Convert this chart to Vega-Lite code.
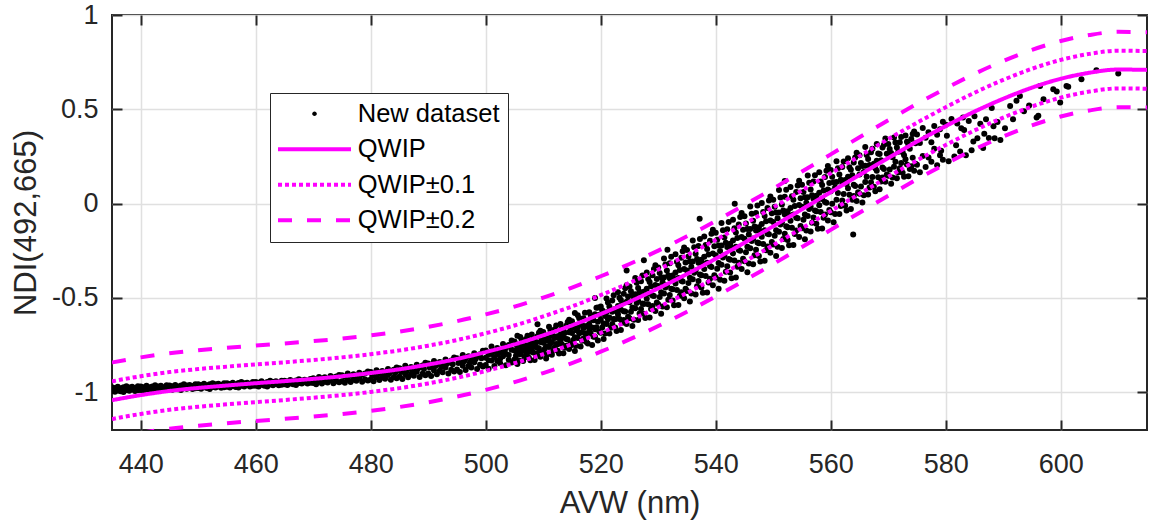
{
"$schema": "https://vega.github.io/schema/vega-lite/v6.json",
"width": 1035, "height": 415,
"autosize": {"type": "none"},
"padding": {"left": 112, "top": 15, "right": 12, "bottom": 94},
"background": "white",
"config": {
 "view": {"stroke": "#262626", "strokeWidth": 2},
 "axis": {"labelFont": "Liberation Sans", "labelFontSize": 27, "labelColor": "#262626", "titleFont": "Liberation Sans", "titleFontSize": 31, "titleFontWeight": "normal", "titleColor": "#262626", "tickColor": "#262626", "tickWidth": 2, "tickSize": -10, "domain": false, "gridColor": "#e0e0e0", "gridWidth": 1.5}
},
"resolve": {"axis": {"x": "independent", "y": "independent"}},
"datasets": {
 "qwip": [
  {"avw":435,"qwip":-1.042,"p1":-0.942,"m1":-1.142,"p2":-0.842,"m2":-1.242},
  {"avw":440,"qwip":-1.015,"p1":-0.915,"m1":-1.115,"p2":-0.815,"m2":-1.215},
  {"avw":445,"qwip":-0.993,"p1":-0.893,"m1":-1.093,"p2":-0.793,"m2":-1.193},
  {"avw":450,"qwip":-0.977,"p1":-0.877,"m1":-1.077,"p2":-0.777,"m2":-1.177},
  {"avw":455,"qwip":-0.964,"p1":-0.864,"m1":-1.064,"p2":-0.764,"m2":-1.164},
  {"avw":460,"qwip":-0.952,"p1":-0.852,"m1":-1.052,"p2":-0.752,"m2":-1.152},
  {"avw":465,"qwip":-0.941,"p1":-0.841,"m1":-1.041,"p2":-0.741,"m2":-1.141},
  {"avw":470,"qwip":-0.929,"p1":-0.829,"m1":-1.029,"p2":-0.729,"m2":-1.129},
  {"avw":475,"qwip":-0.915,"p1":-0.815,"m1":-1.015,"p2":-0.715,"m2":-1.115},
  {"avw":480,"qwip":-0.898,"p1":-0.798,"m1":-0.998,"p2":-0.698,"m2":-1.098},
  {"avw":485,"qwip":-0.878,"p1":-0.778,"m1":-0.978,"p2":-0.678,"m2":-1.078},
  {"avw":490,"qwip":-0.853,"p1":-0.753,"m1":-0.953,"p2":-0.653,"m2":-1.053},
  {"avw":495,"qwip":-0.823,"p1":-0.723,"m1":-0.923,"p2":-0.623,"m2":-1.023},
  {"avw":500,"qwip":-0.787,"p1":-0.687,"m1":-0.887,"p2":-0.587,"m2":-0.987},
  {"avw":505,"qwip":-0.746,"p1":-0.646,"m1":-0.846,"p2":-0.546,"m2":-0.946},
  {"avw":510,"qwip":-0.698,"p1":-0.598,"m1":-0.798,"p2":-0.498,"m2":-0.898},
  {"avw":515,"qwip":-0.645,"p1":-0.545,"m1":-0.745,"p2":-0.445,"m2":-0.845},
  {"avw":520,"qwip":-0.585,"p1":-0.485,"m1":-0.685,"p2":-0.385,"m2":-0.785},
  {"avw":525,"qwip":-0.520,"p1":-0.420,"m1":-0.620,"p2":-0.320,"m2":-0.720},
  {"avw":530,"qwip":-0.449,"p1":-0.349,"m1":-0.549,"p2":-0.249,"m2":-0.649},
  {"avw":535,"qwip":-0.373,"p1":-0.273,"m1":-0.473,"p2":-0.173,"m2":-0.573},
  {"avw":540,"qwip":-0.292,"p1":-0.192,"m1":-0.392,"p2":-0.092,"m2":-0.492},
  {"avw":545,"qwip":-0.207,"p1":-0.107,"m1":-0.307,"p2":-0.007,"m2":-0.407},
  {"avw":550,"qwip":-0.120,"p1":-0.020,"m1":-0.220,"p2":0.080,"m2":-0.320},
  {"avw":555,"qwip":-0.030,"p1":0.070,"m1":-0.130,"p2":0.170,"m2":-0.230},
  {"avw":560,"qwip":0.061,"p1":0.161,"m1":-0.039,"p2":0.261,"m2":-0.139},
  {"avw":565,"qwip":0.152,"p1":0.252,"m1":0.052,"p2":0.352,"m2":-0.048},
  {"avw":570,"qwip":0.242,"p1":0.342,"m1":0.142,"p2":0.442,"m2":0.042},
  {"avw":575,"qwip":0.329,"p1":0.429,"m1":0.229,"p2":0.529,"m2":0.129},
  {"avw":580,"qwip":0.411,"p1":0.511,"m1":0.311,"p2":0.611,"m2":0.211},
  {"avw":585,"qwip":0.488,"p1":0.588,"m1":0.388,"p2":0.688,"m2":0.288},
  {"avw":590,"qwip":0.556,"p1":0.656,"m1":0.456,"p2":0.756,"m2":0.356},
  {"avw":595,"qwip":0.615,"p1":0.715,"m1":0.515,"p2":0.815,"m2":0.415},
  {"avw":600,"qwip":0.662,"p1":0.762,"m1":0.562,"p2":0.862,"m2":0.462},
  {"avw":605,"qwip":0.694,"p1":0.794,"m1":0.594,"p2":0.894,"m2":0.494},
  {"avw":610,"qwip":0.711,"p1":0.811,"m1":0.611,"p2":0.911,"m2":0.511},
  {"avw":615,"qwip":0.709,"p1":0.809,"m1":0.609,"p2":0.909,"m2":0.509}
 ],
 "pts": [
  {"avw":435,"ndi":-0.974},{"avw":435,"ndi":-0.993},{"avw":435.5,"ndi":-0.978},{"avw":435.5,"ndi":-0.997},{"avw":436,"ndi":-0.971},{"avw":436,"ndi":-0.989},{"avw":436.5,"ndi":-0.979},{"avw":436.5,"ndi":-0.994},{"avw":437,"ndi":-0.974},{"avw":437,"ndi":-0.998},{"avw":437.5,"ndi":-0.968},{"avw":437.5,"ndi":-0.988},{"avw":438,"ndi":-0.975},{"avw":438,"ndi":-0.992},{"avw":438.5,"ndi":-0.971},{"avw":438.5,"ndi":-0.985},{"avw":439,"ndi":-0.978},{"avw":439,"ndi":-0.993},{"avw":439.5,"ndi":-0.968},{"avw":439.5,"ndi":-0.989},
  {"avw":440,"ndi":-0.969},{"avw":440,"ndi":-0.988},{"avw":440.5,"ndi":-0.973},{"avw":440.5,"ndi":-0.992},{"avw":441,"ndi":-0.966},{"avw":441,"ndi":-0.984},{"avw":441.5,"ndi":-0.974},{"avw":441.5,"ndi":-0.989},{"avw":442,"ndi":-0.969},{"avw":442,"ndi":-0.993},{"avw":442.5,"ndi":-0.963},{"avw":442.5,"ndi":-0.983},{"avw":443,"ndi":-0.970},{"avw":443,"ndi":-0.987},{"avw":443.5,"ndi":-0.966},{"avw":443.5,"ndi":-0.980},{"avw":444,"ndi":-0.973},{"avw":444,"ndi":-0.988},{"avw":444.5,"ndi":-0.963},{"avw":444.5,"ndi":-0.984},
  {"avw":445,"ndi":-0.964},{"avw":445,"ndi":-0.983},{"avw":445.5,"ndi":-0.968},{"avw":445.5,"ndi":-0.987},{"avw":446,"ndi":-0.961},{"avw":446,"ndi":-0.979},{"avw":446.5,"ndi":-0.969},{"avw":446.5,"ndi":-0.984},{"avw":447,"ndi":-0.964},{"avw":447,"ndi":-0.988},{"avw":447.5,"ndi":-0.958},{"avw":447.5,"ndi":-0.978},{"avw":448,"ndi":-0.964},{"avw":448,"ndi":-0.981},{"avw":448.5,"ndi":-0.961},{"avw":448.5,"ndi":-0.975},{"avw":449,"ndi":-0.967},{"avw":449,"ndi":-0.982},{"avw":449.5,"ndi":-0.958},{"avw":449.5,"ndi":-0.979},
  {"avw":450,"ndi":-0.958},{"avw":450,"ndi":-0.977},{"avw":450.5,"ndi":-0.962},{"avw":450.5,"ndi":-0.981},{"avw":451,"ndi":-0.955},{"avw":451,"ndi":-0.973},{"avw":451.5,"ndi":-0.963},{"avw":451.5,"ndi":-0.978},{"avw":452,"ndi":-0.958},{"avw":452,"ndi":-0.982},{"avw":452.5,"ndi":-0.952},{"avw":452.5,"ndi":-0.972},{"avw":453,"ndi":-0.958},{"avw":453,"ndi":-0.975},{"avw":453.5,"ndi":-0.955},{"avw":453.5,"ndi":-0.969},{"avw":454,"ndi":-0.961},{"avw":454,"ndi":-0.976},{"avw":454.5,"ndi":-0.952},{"avw":454.5,"ndi":-0.973},
  {"avw":455,"ndi":-0.952},{"avw":455,"ndi":-0.971},{"avw":455.5,"ndi":-0.956},{"avw":455.5,"ndi":-0.975},{"avw":456,"ndi":-0.949},{"avw":456,"ndi":-0.967},{"avw":456.5,"ndi":-0.957},{"avw":456.5,"ndi":-0.972},{"avw":457,"ndi":-0.951},{"avw":457,"ndi":-0.975},{"avw":457.5,"ndi":-0.946},{"avw":457.5,"ndi":-0.966},{"avw":458,"ndi":-0.952},{"avw":458,"ndi":-0.969},{"avw":458.5,"ndi":-0.949},{"avw":458.5,"ndi":-0.963},{"avw":459,"ndi":-0.955},{"avw":459,"ndi":-0.970},{"avw":459.5,"ndi":-0.945},{"avw":459.5,"ndi":-0.966},
  {"avw":460,"ndi":-0.946},{"avw":460,"ndi":-0.965},{"avw":460.5,"ndi":-0.950},{"avw":460.5,"ndi":-0.969},{"avw":461,"ndi":-0.942},{"avw":461,"ndi":-0.960},{"avw":461.5,"ndi":-0.951},{"avw":461.5,"ndi":-0.966},{"avw":462,"ndi":-0.945},{"avw":462,"ndi":-0.969},{"avw":462.5,"ndi":-0.939},{"avw":462.5,"ndi":-0.959},{"avw":463,"ndi":-0.946},{"avw":463,"ndi":-0.963},{"avw":463.5,"ndi":-0.942},{"avw":463.5,"ndi":-0.956},{"avw":464,"ndi":-0.948},{"avw":464,"ndi":-0.963},{"avw":464.5,"ndi":-0.939},{"avw":464.5,"ndi":-0.960},
  {"avw":465,"ndi":-0.939},{"avw":465,"ndi":-0.958},{"avw":465.5,"ndi":-0.943},{"avw":465.5,"ndi":-0.962},{"avw":466,"ndi":-0.935},{"avw":466,"ndi":-0.953},{"avw":466.5,"ndi":-0.943},{"avw":466.5,"ndi":-0.958},{"avw":467,"ndi":-0.937},{"avw":467,"ndi":-0.961},{"avw":467.5,"ndi":-0.931},{"avw":467.5,"ndi":-0.951},{"avw":468,"ndi":-0.937},{"avw":468,"ndi":-0.954},{"avw":468.5,"ndi":-0.933},{"avw":468.5,"ndi":-0.947},{"avw":469,"ndi":-0.939},{"avw":469,"ndi":-0.954},{"avw":469.5,"ndi":-0.929},{"avw":469.5,"ndi":-0.950},
  {"avw":470,"ndi":-0.926},{"avw":470,"ndi":-0.951},{"avw":470.5,"ndi":-0.932},{"avw":470.5,"ndi":-0.957},{"avw":471,"ndi":-0.919},{"avw":471,"ndi":-0.943},{"avw":471.5,"ndi":-0.927},{"avw":471.5,"ndi":-0.953},{"avw":472,"ndi":-0.921},{"avw":472,"ndi":-0.944},{"avw":472.5,"ndi":-0.930},{"avw":472.5,"ndi":-0.948},{"avw":473,"ndi":-0.914},{"avw":473,"ndi":-0.936},{"avw":473.5,"ndi":-0.922},{"avw":473.5,"ndi":-0.952},{"avw":474,"ndi":-0.916},{"avw":474,"ndi":-0.942},{"avw":474.5,"ndi":-0.908},{"avw":474.5,"ndi":-0.947},
  {"avw":475,"ndi":-0.910},{"avw":475,"ndi":-0.942},{"avw":475.5,"ndi":-0.918},{"avw":475.5,"ndi":-0.950},{"avw":476,"ndi":-0.901},{"avw":476,"ndi":-0.933},{"avw":476.5,"ndi":-0.912},{"avw":476.5,"ndi":-0.945},{"avw":477,"ndi":-0.905},{"avw":477,"ndi":-0.934},{"avw":477.5,"ndi":-0.916},{"avw":477.5,"ndi":-0.939},{"avw":478,"ndi":-0.897},{"avw":478,"ndi":-0.924},{"avw":478.5,"ndi":-0.907},{"avw":478.5,"ndi":-0.944},{"avw":479,"ndi":-0.900},{"avw":479,"ndi":-0.932},{"avw":479.5,"ndi":-0.890},{"avw":479.5,"ndi":-0.938},
  {"avw":480,"ndi":-0.893},{"avw":480,"ndi":-0.932},{"avw":480.5,"ndi":-0.903},{"avw":480.5,"ndi":-0.942},{"avw":481,"ndi":-0.883},{"avw":481,"ndi":-0.920},{"avw":481.5,"ndi":-0.895},{"avw":481.5,"ndi":-0.935},{"avw":482,"ndi":-0.887},{"avw":482,"ndi":-0.922},{"avw":482.5,"ndi":-0.900},{"avw":482.5,"ndi":-0.928},{"avw":483,"ndi":-0.877},{"avw":483,"ndi":-0.909},{"avw":483.5,"ndi":-0.889},{"avw":483.5,"ndi":-0.933},{"avw":484,"ndi":-0.881},{"avw":484,"ndi":-0.919},{"avw":484.5,"ndi":-0.869},{"avw":484.5,"ndi":-0.926},
  {"avw":485,"ndi":-0.872},{"avw":485,"ndi":-0.918},{"avw":485.5,"ndi":-0.884},{"avw":485.5,"ndi":-0.930},{"avw":486,"ndi":-0.860},{"avw":486,"ndi":-0.904},{"avw":486.5,"ndi":-0.875},{"avw":486.5,"ndi":-0.921},{"avw":487,"ndi":-0.866},{"avw":487,"ndi":-0.906},{"avw":487.5,"ndi":-0.881},{"avw":487.5,"ndi":-0.913},{"avw":488,"ndi":-0.854},{"avw":488,"ndi":-0.891},{"avw":488.5,"ndi":-0.868},{"avw":488.5,"ndi":-0.919},{"avw":489,"ndi":-0.858},{"avw":489,"ndi":-0.902},{"avw":489.5,"ndi":-0.844},{"avw":489.5,"ndi":-0.910},
  {"avw":490,"ndi":-0.848},{"avw":490,"ndi":-0.901},{"avw":490.5,"ndi":-0.862},{"avw":490.5,"ndi":-0.914},{"avw":491,"ndi":-0.834},{"avw":491,"ndi":-0.885},{"avw":491.5,"ndi":-0.851},{"avw":491.5,"ndi":-0.904},{"avw":492,"ndi":-0.840},{"avw":492,"ndi":-0.886},{"avw":492.5,"ndi":-0.857},{"avw":492.5,"ndi":-0.894},{"avw":493,"ndi":-0.826},{"avw":493,"ndi":-0.869},{"avw":493.5,"ndi":-0.842},{"avw":493.5,"ndi":-0.900},{"avw":494,"ndi":-0.831},{"avw":494,"ndi":-0.881},{"avw":494.5,"ndi":-0.815},{"avw":494.5,"ndi":-0.890},
  {"avw":495,"ndi":-0.819},{"avw":495,"ndi":-0.879},{"avw":495.5,"ndi":-0.835},{"avw":495.5,"ndi":-0.893},{"avw":496,"ndi":-0.803},{"avw":496,"ndi":-0.860},{"avw":496.5,"ndi":-0.821},{"avw":496.5,"ndi":-0.882},{"avw":497,"ndi":-0.809},{"avw":497,"ndi":-0.861},{"avw":497.5,"ndi":-0.828},{"avw":497.5,"ndi":-0.869},{"avw":498,"ndi":-0.793},{"avw":498,"ndi":-0.841},{"avw":498.5,"ndi":-0.810},{"avw":498.5,"ndi":-0.876},{"avw":499,"ndi":-0.798},{"avw":499,"ndi":-0.854},{"avw":499.5,"ndi":-0.780},{"avw":499.5,"ndi":-0.863},
  {"avw":480.25,"ndi":-0.912},{"avw":481.25,"ndi":-0.905},{"avw":482.25,"ndi":-0.911},{"avw":483.25,"ndi":-0.898},{"avw":484.25,"ndi":-0.897},{"avw":485.25,"ndi":-0.893},{"avw":486.25,"ndi":-0.889},{"avw":487.25,"ndi":-0.884},{"avw":488.25,"ndi":-0.873},{"avw":489.25,"ndi":-0.876},{"avw":490.25,"ndi":-0.869},{"avw":491.25,"ndi":-0.861},{"avw":492.25,"ndi":-0.865},{"avw":493.25,"ndi":-0.849},{"avw":494.25,"ndi":-0.852},{"avw":495.25,"ndi":-0.845},{"avw":496.25,"ndi":-0.835},{"avw":497.25,"ndi":-0.842},{"avw":498.25,"ndi":-0.823},{"avw":499.25,"ndi":-0.820},
  {"avw":500,"ndi":-0.778},{"avw":500,"ndi":-0.855},{"avw":500,"ndi":-0.817},{"avw":500.5,"ndi":-0.799},{"avw":500.5,"ndi":-0.875},{"avw":500.5,"ndi":-0.830},{"avw":501,"ndi":-0.757},{"avw":501,"ndi":-0.832},{"avw":501,"ndi":-0.797},{"avw":501.5,"ndi":-0.782},{"avw":501.5,"ndi":-0.861},{"avw":501.5,"ndi":-0.814},{"avw":502,"ndi":-0.765},{"avw":502,"ndi":-0.834},{"avw":502,"ndi":-0.798},{"avw":502.5,"ndi":-0.791},{"avw":502.5,"ndi":-0.846},{"avw":502.5,"ndi":-0.822},{"avw":503,"ndi":-0.744},{"avw":503,"ndi":-0.809},{"avw":503,"ndi":-0.784},{"avw":503.5,"ndi":-0.767},{"avw":503.5,"ndi":-0.857},{"avw":503.5,"ndi":-0.796},{"avw":504,"ndi":-0.750},{"avw":504,"ndi":-0.828},{"avw":504,"ndi":-0.802},{"avw":504.5,"ndi":-0.726},{"avw":504.5,"ndi":-0.842},{"avw":504.5,"ndi":-0.775},
  {"avw":505,"ndi":-0.731},{"avw":505,"ndi":-0.826},{"avw":505,"ndi":-0.778},{"avw":505.5,"ndi":-0.757},{"avw":505.5,"ndi":-0.850},{"avw":505.5,"ndi":-0.795},{"avw":506,"ndi":-0.707},{"avw":506,"ndi":-0.798},{"avw":506,"ndi":-0.756},{"avw":506.5,"ndi":-0.737},{"avw":506.5,"ndi":-0.834},{"avw":506.5,"ndi":-0.777},{"avw":507,"ndi":-0.718},{"avw":507,"ndi":-0.802},{"avw":507,"ndi":-0.758},{"avw":507.5,"ndi":-0.750},{"avw":507.5,"ndi":-0.817},{"avw":507.5,"ndi":-0.787},{"avw":508,"ndi":-0.694},{"avw":508,"ndi":-0.772},{"avw":508,"ndi":-0.742},{"avw":508.5,"ndi":-0.723},{"avw":508.5,"ndi":-0.829},{"avw":508.5,"ndi":-0.757},{"avw":509,"ndi":-0.703},{"avw":509,"ndi":-0.796},{"avw":509,"ndi":-0.765},{"avw":509.5,"ndi":-0.674},{"avw":509.5,"ndi":-0.812},{"avw":509.5,"ndi":-0.733},
  {"avw":510,"ndi":-0.681},{"avw":510,"ndi":-0.793},{"avw":510,"ndi":-0.737},{"avw":510.5,"ndi":-0.712},{"avw":510.5,"ndi":-0.821},{"avw":510.5,"ndi":-0.756},{"avw":511,"ndi":-0.653},{"avw":511,"ndi":-0.760},{"avw":511,"ndi":-0.710},{"avw":511.5,"ndi":-0.689},{"avw":511.5,"ndi":-0.801},{"avw":511.5,"ndi":-0.734},{"avw":512,"ndi":-0.666},{"avw":512,"ndi":-0.763},{"avw":512,"ndi":-0.712},{"avw":512.5,"ndi":-0.703},{"avw":512.5,"ndi":-0.780},{"avw":512.5,"ndi":-0.746},{"avw":513,"ndi":-0.638},{"avw":513,"ndi":-0.728},{"avw":513,"ndi":-0.694},{"avw":513.5,"ndi":-0.671},{"avw":513.5,"ndi":-0.793},{"avw":513.5,"ndi":-0.710},{"avw":514,"ndi":-0.648},{"avw":514,"ndi":-0.753},{"avw":514,"ndi":-0.718},{"avw":514.5,"ndi":-0.615},{"avw":514.5,"ndi":-0.771},{"avw":514.5,"ndi":-0.682},
  {"avw":515,"ndi":-0.623},{"avw":515,"ndi":-0.749},{"avw":515,"ndi":-0.686},{"avw":515.5,"ndi":-0.658},{"avw":515.5,"ndi":-0.781},{"avw":515.5,"ndi":-0.708},{"avw":516,"ndi":-0.592},{"avw":516,"ndi":-0.712},{"avw":516,"ndi":-0.656},{"avw":516.5,"ndi":-0.632},{"avw":516.5,"ndi":-0.758},{"avw":516.5,"ndi":-0.683},{"avw":517,"ndi":-0.607},{"avw":517,"ndi":-0.715},{"avw":517,"ndi":-0.659},{"avw":517.5,"ndi":-0.649},{"avw":517.5,"ndi":-0.734},{"avw":517.5,"ndi":-0.696},{"avw":518,"ndi":-0.576},{"avw":518,"ndi":-0.676},{"avw":518,"ndi":-0.638},{"avw":518.5,"ndi":-0.613},{"avw":518.5,"ndi":-0.749},{"avw":518.5,"ndi":-0.657},{"avw":519,"ndi":-0.587},{"avw":519,"ndi":-0.705},{"avw":519,"ndi":-0.666},{"avw":519.5,"ndi":-0.551},{"avw":519.5,"ndi":-0.725},{"avw":519.5,"ndi":-0.626},
  {"avw":520,"ndi":-0.545},{"avw":520,"ndi":-0.685},{"avw":520,"ndi":-0.615},{"avw":520.5,"ndi":-0.580},{"avw":520.5,"ndi":-0.718},{"avw":520.5,"ndi":-0.636},{"avw":521,"ndi":-0.503},{"avw":521,"ndi":-0.638},{"avw":521,"ndi":-0.576},{"avw":521.5,"ndi":-0.545},{"avw":521.5,"ndi":-0.688},{"avw":521.5,"ndi":-0.603},{"avw":522,"ndi":-0.513},{"avw":522,"ndi":-0.638},{"avw":522,"ndi":-0.573},{"avw":522.5,"ndi":-0.558},{"avw":522.5,"ndi":-0.657},{"avw":522.5,"ndi":-0.613},{"avw":523,"ndi":-0.470},{"avw":523,"ndi":-0.588},{"avw":523,"ndi":-0.543},{"avw":523.5,"ndi":-0.511},{"avw":523.5,"ndi":-0.670},{"avw":523.5,"ndi":-0.562},{"avw":524,"ndi":-0.478},{"avw":524,"ndi":-0.617},{"avw":524,"ndi":-0.570},{"avw":524.5,"ndi":-0.432},{"avw":524.5,"ndi":-0.638},{"avw":524.5,"ndi":-0.520},
  {"avw":525,"ndi":-0.439},{"avw":525,"ndi":-0.607},{"avw":525,"ndi":-0.523},{"avw":525.5,"ndi":-0.484},{"avw":525.5,"ndi":-0.649},{"avw":525.5,"ndi":-0.551},{"avw":526,"ndi":-0.394},{"avw":526,"ndi":-0.555},{"avw":526,"ndi":-0.481},{"avw":526.5,"ndi":-0.447},{"avw":526.5,"ndi":-0.617},{"avw":526.5,"ndi":-0.516},{"avw":527,"ndi":-0.411},{"avw":527,"ndi":-0.559},{"avw":527,"ndi":-0.482},{"avw":527.5,"ndi":-0.467},{"avw":527.5,"ndi":-0.584},{"avw":527.5,"ndi":-0.532},{"avw":528,"ndi":-0.365},{"avw":528,"ndi":-0.504},{"avw":528,"ndi":-0.451},{"avw":528.5,"ndi":-0.415},{"avw":528.5,"ndi":-0.603},{"avw":528.5,"ndi":-0.476},{"avw":529,"ndi":-0.379},{"avw":529,"ndi":-0.542},{"avw":529,"ndi":-0.487},{"avw":529.5,"ndi":-0.327},{"avw":529.5,"ndi":-0.569},{"avw":529.5,"ndi":-0.431},
  {"avw":530,"ndi":-0.338},{"avw":530,"ndi":-0.534},{"avw":530,"ndi":-0.436},{"avw":530.5,"ndi":-0.392},{"avw":530.5,"ndi":-0.584},{"avw":530.5,"ndi":-0.470},{"avw":531,"ndi":-0.291},{"avw":531,"ndi":-0.477},{"avw":531,"ndi":-0.391},{"avw":531.5,"ndi":-0.354},{"avw":531.5,"ndi":-0.549},{"avw":531.5,"ndi":-0.433},{"avw":532,"ndi":-0.316},{"avw":532,"ndi":-0.484},{"avw":532,"ndi":-0.396},{"avw":532.5,"ndi":-0.381},{"avw":532.5,"ndi":-0.513},{"avw":532.5,"ndi":-0.454},{"avw":533,"ndi":-0.268},{"avw":533,"ndi":-0.424},{"avw":533,"ndi":-0.365},{"avw":533.5,"ndi":-0.326},{"avw":533.5,"ndi":-0.537},{"avw":533.5,"ndi":-0.394},{"avw":534,"ndi":-0.287},{"avw":534,"ndi":-0.470},{"avw":534,"ndi":-0.409},{"avw":534.5,"ndi":-0.232},{"avw":534.5,"ndi":-0.501},{"avw":534.5,"ndi":-0.347},
  {"avw":535,"ndi":-0.246},{"avw":535,"ndi":-0.463},{"avw":535,"ndi":-0.355},{"avw":535.5,"ndi":-0.307},{"avw":535.5,"ndi":-0.519},{"avw":535.5,"ndi":-0.393},{"avw":536,"ndi":-0.196},{"avw":536,"ndi":-0.401},{"avw":536,"ndi":-0.307},{"avw":536.5,"ndi":-0.266},{"avw":536.5,"ndi":-0.482},{"avw":536.5,"ndi":-0.354},{"avw":537,"ndi":-0.225},{"avw":537,"ndi":-0.410},{"avw":537,"ndi":-0.314},{"avw":537.5,"ndi":-0.298},{"avw":537.5,"ndi":-0.444},{"avw":537.5,"ndi":-0.379},{"avw":538,"ndi":-0.174},{"avw":538,"ndi":-0.347},{"avw":538,"ndi":-0.281},{"avw":538.5,"ndi":-0.240},{"avw":538.5,"ndi":-0.471},{"avw":538.5,"ndi":-0.314},{"avw":539,"ndi":-0.197},{"avw":539,"ndi":-0.398},{"avw":539,"ndi":-0.331},{"avw":539.5,"ndi":-0.138},{"avw":539.5,"ndi":-0.433},{"avw":539.5,"ndi":-0.264},
  {"avw":540,"ndi":-0.154},{"avw":540,"ndi":-0.392},{"avw":540,"ndi":-0.273},{"avw":540.5,"ndi":-0.222},{"avw":540.5,"ndi":-0.451},{"avw":540.5,"ndi":-0.315},{"avw":541,"ndi":-0.103},{"avw":541,"ndi":-0.324},{"avw":541,"ndi":-0.222},{"avw":541.5,"ndi":-0.179},{"avw":541.5,"ndi":-0.409},{"avw":541.5,"ndi":-0.273},{"avw":542,"ndi":-0.136},{"avw":542,"ndi":-0.332},{"avw":542,"ndi":-0.230},{"avw":542.5,"ndi":-0.212},{"avw":542.5,"ndi":-0.365},{"avw":542.5,"ndi":-0.297},{"avw":543,"ndi":-0.085},{"avw":543,"ndi":-0.264},{"avw":543,"ndi":-0.196},{"avw":543.5,"ndi":-0.153},{"avw":543.5,"ndi":-0.391},{"avw":543.5,"ndi":-0.229},{"avw":544,"ndi":-0.110},{"avw":544,"ndi":-0.314},{"avw":544,"ndi":-0.246},{"avw":544.5,"ndi":-0.050},{"avw":544.5,"ndi":-0.347},{"avw":544.5,"ndi":-0.177},
  {"avw":545,"ndi":-0.067},{"avw":545,"ndi":-0.305},{"avw":545,"ndi":-0.186},{"avw":545.5,"ndi":-0.135},{"avw":545.5,"ndi":-0.364},{"avw":545.5,"ndi":-0.228},{"avw":546,"ndi":-0.015},{"avw":546,"ndi":-0.236},{"avw":546,"ndi":-0.134},{"avw":546.5,"ndi":-0.091},{"avw":546.5,"ndi":-0.321},{"avw":546.5,"ndi":-0.185},{"avw":547,"ndi":-0.049},{"avw":547,"ndi":-0.245},{"avw":547,"ndi":-0.143},{"avw":547.5,"ndi":-0.125},{"avw":547.5,"ndi":-0.278},{"avw":547.5,"ndi":-0.210},{"avw":548,"ndi":0.003},{"avw":548,"ndi":-0.176},{"avw":548,"ndi":-0.108},{"avw":548.5,"ndi":-0.065},{"avw":548.5,"ndi":-0.303},{"avw":548.5,"ndi":-0.141},{"avw":549,"ndi":-0.023},{"avw":549,"ndi":-0.227},{"avw":549,"ndi":-0.159},{"avw":549.5,"ndi":0.038},{"avw":549.5,"ndi":-0.260},{"avw":549.5,"ndi":-0.090},
  {"avw":550,"ndi":0.021},{"avw":550,"ndi":-0.217},{"avw":550,"ndi":-0.098},{"avw":550.5,"ndi":-0.047},{"avw":550.5,"ndi":-0.277},{"avw":550.5,"ndi":-0.141},{"avw":551,"ndi":0.072},{"avw":551,"ndi":-0.149},{"avw":551,"ndi":-0.047},{"avw":551.5,"ndi":-0.005},{"avw":551.5,"ndi":-0.235},{"avw":551.5,"ndi":-0.099},{"avw":552,"ndi":0.037},{"avw":552,"ndi":-0.159},{"avw":552,"ndi":-0.057},{"avw":552.5,"ndi":-0.040},{"avw":552.5,"ndi":-0.193},{"avw":552.5,"ndi":-0.125},{"avw":553,"ndi":0.088},{"avw":553,"ndi":-0.091},{"avw":553,"ndi":-0.023},{"avw":553.5,"ndi":0.020},{"avw":553.5,"ndi":-0.219},{"avw":553.5,"ndi":-0.057},{"avw":554,"ndi":0.062},{"avw":554,"ndi":-0.143},{"avw":554,"ndi":-0.075},{"avw":554.5,"ndi":0.121},{"avw":554.5,"ndi":-0.177},{"avw":554.5,"ndi":-0.007},
  {"avw":555,"ndi":0.100},{"avw":555,"ndi":-0.131},{"avw":555,"ndi":-0.016},{"avw":555.5,"ndi":0.034},{"avw":555.5,"ndi":-0.189},{"avw":555.5,"ndi":-0.057},{"avw":556,"ndi":0.149},{"avw":556,"ndi":-0.066},{"avw":556,"ndi":0.034},{"avw":556.5,"ndi":0.075},{"avw":556.5,"ndi":-0.148},{"avw":556.5,"ndi":-0.016},{"avw":557,"ndi":0.117},{"avw":557,"ndi":-0.073},{"avw":557,"ndi":0.026},{"avw":557.5,"ndi":0.042},{"avw":557.5,"ndi":-0.107},{"avw":557.5,"ndi":-0.041},{"avw":558,"ndi":0.166},{"avw":558,"ndi":-0.008},{"avw":558,"ndi":0.058},{"avw":558.5,"ndi":0.099},{"avw":558.5,"ndi":-0.132},{"avw":558.5,"ndi":0.025},{"avw":559,"ndi":0.141},{"avw":559,"ndi":-0.057},{"avw":559,"ndi":0.009},{"avw":559.5,"ndi":0.199},{"avw":559.5,"ndi":-0.090},{"avw":559.5,"ndi":0.075},
  {"avw":560,"ndi":0.178},{"avw":560,"ndi":-0.046},{"avw":560,"ndi":0.066},{"avw":560.5,"ndi":0.114},{"avw":560.5,"ndi":-0.099},{"avw":561,"ndi":0.225},{"avw":561,"ndi":0.021},{"avw":561,"ndi":0.115},{"avw":561.5,"ndi":0.155},{"avw":561.5,"ndi":-0.055},{"avw":562,"ndi":0.194},{"avw":562,"ndi":0.017},{"avw":562,"ndi":0.109},{"avw":562.5,"ndi":0.125},{"avw":562.5,"ndi":-0.011},{"avw":563,"ndi":0.240},{"avw":563,"ndi":0.081},{"avw":563,"ndi":0.142},{"avw":563.5,"ndi":0.180},{"avw":563.5,"ndi":-0.029},{"avw":564,"ndi":0.218},{"avw":564,"ndi":0.041},{"avw":564,"ndi":0.100},{"avw":564.5,"ndi":0.270},{"avw":564.5,"ndi":0.014},
  {"avw":565,"ndi":0.256},{"avw":565,"ndi":0.053},{"avw":565,"ndi":0.155},{"avw":565.5,"ndi":0.199},{"avw":565.5,"ndi":0.006},{"avw":566,"ndi":0.300},{"avw":566,"ndi":0.115},{"avw":566,"ndi":0.201},{"avw":566.5,"ndi":0.237},{"avw":566.5,"ndi":0.048},{"avw":567,"ndi":0.273},{"avw":567,"ndi":0.113},{"avw":567,"ndi":0.197},{"avw":567.5,"ndi":0.212},{"avw":567.5,"ndi":0.089},{"avw":568,"ndi":0.316},{"avw":568,"ndi":0.174},{"avw":568,"ndi":0.228},{"avw":568.5,"ndi":0.263},{"avw":568.5,"ndi":0.076},{"avw":569,"ndi":0.298},{"avw":569,"ndi":0.139},{"avw":569,"ndi":0.192},{"avw":569.5,"ndi":0.345},{"avw":569.5,"ndi":0.116},
  {"avw":570,"ndi":0.316},{"avw":570,"ndi":0.148},{"avw":570.5,"ndi":0.268},{"avw":570.5,"ndi":0.106},{"avw":571,"ndi":0.351},{"avw":571,"ndi":0.195},{"avw":571.5,"ndi":0.297},{"avw":571.5,"ndi":0.135},{"avw":572,"ndi":0.326},{"avw":572,"ndi":0.188},{"avw":572.5,"ndi":0.272},{"avw":572.5,"ndi":0.164},{"avw":573,"ndi":0.361},{"avw":573,"ndi":0.235},{"avw":573.5,"ndi":0.313},{"avw":573.5,"ndi":0.145},{"avw":574,"ndi":0.342},{"avw":574,"ndi":0.198},{"avw":574.5,"ndi":0.383},{"avw":574.5,"ndi":0.174},
  {"avw":575,"ndi":0.367},{"avw":575,"ndi":0.206},{"avw":575.5,"ndi":0.321},{"avw":575.5,"ndi":0.166},{"avw":576,"ndi":0.401},{"avw":576,"ndi":0.252},{"avw":576.5,"ndi":0.349},{"avw":576.5,"ndi":0.194},{"avw":577,"ndi":0.378},{"avw":577,"ndi":0.245},{"avw":577.5,"ndi":0.326},{"avw":577.5,"ndi":0.222},{"avw":578,"ndi":0.412},{"avw":578,"ndi":0.291},{"avw":578.5,"ndi":0.365},{"avw":578.5,"ndi":0.204},{"avw":579,"ndi":0.394},{"avw":579,"ndi":0.256},{"avw":579.5,"ndi":0.434},{"avw":579.5,"ndi":0.233},
  {"avw":580,"ndi":0.418},{"avw":580.5,"ndi":0.225},{"avw":581,"ndi":0.449},{"avw":581.5,"ndi":0.250},{"avw":582,"ndi":0.425},{"avw":582.5,"ndi":0.276},{"avw":583,"ndi":0.456},{"avw":583.5,"ndi":0.257},{"avw":584,"ndi":0.438},{"avw":584.5,"ndi":0.283},{"avw":585,"ndi":0.463},{"avw":585.5,"ndi":0.346},{"avw":586,"ndi":0.423},{"avw":586.5,"ndi":0.295},{"avw":587,"ndi":0.448},{"avw":587.5,"ndi":0.348},{"avw":588,"ndi":0.507},{"avw":588.5,"ndi":0.346},{"avw":589,"ndi":0.433},{"avw":589.5,"ndi":0.338},
  {"avw":580.2,"ndi":0.36},{"avw":581.8,"ndi":0.31},{"avw":583.2,"ndi":0.39},{"avw":584.8,"ndi":0.33},{"avw":586.7,"ndi":0.37},{"avw":588.3,"ndi":0.41},{"avw":582.7,"ndi":0.40},{"avw":579.2,"ndi":0.28},
  {"avw":590.3,"ndi":0.40},{"avw":591.2,"ndi":0.518},{"avw":591.7,"ndi":0.448},{"avw":592.3,"ndi":0.545},{"avw":592.9,"ndi":0.571},{"avw":593.6,"ndi":0.49},{"avw":594.5,"ndi":0.52},{"avw":595.8,"ndi":0.457},{"avw":596.1,"ndi":0.466},{"avw":596.4,"ndi":0.624},{"avw":597,"ndi":0.554},{"avw":598.7,"ndi":0.607},{"avw":599.3,"ndi":0.594},{"avw":599.9,"ndi":0.536},{"avw":601,"ndi":0.624},{"avw":601.3,"ndi":0.619},{"avw":603.6,"ndi":0.66},{"avw":606.2,"ndi":0.707},{"avw":610,"ndi":0.69},
  {"avw":531.6,"ndi":-0.245},{"avw":563.9,"ndi":-0.164},{"avw":543.3,"ndi":0.0},{"avw":524.5,"ndi":-0.355},{"avw":527.5,"ndi":-0.30},{"avw":537.2,"ndi":-0.08},{"avw":552,"ndi":0.12},{"avw":519,"ndi":-0.50},{"avw":515.5,"ndi":-0.58},{"avw":509,"ndi":-0.64},{"avw":505.5,"ndi":-0.70},
  {"avw":505.25,"ndi":-0.746},{"avw":505.25,"ndi":-0.807},{"avw":505.75,"ndi":-0.769},{"avw":505.75,"ndi":-0.831},{"avw":506.25,"ndi":-0.723},{"avw":506.25,"ndi":-0.782},{"avw":506.75,"ndi":-0.749},{"avw":506.75,"ndi":-0.814},{"avw":507.25,"ndi":-0.701},{"avw":507.25,"ndi":-0.785},{"avw":507.75,"ndi":-0.759},{"avw":507.75,"ndi":-0.830},{"avw":508.25,"ndi":-0.714},{"avw":508.25,"ndi":-0.789},{"avw":508.75,"ndi":-0.736},{"avw":508.75,"ndi":-0.805},{"avw":509.25,"ndi":-0.685},{"avw":509.25,"ndi":-0.767},{"avw":509.75,"ndi":-0.715},{"avw":509.75,"ndi":-0.787},
  {"avw":510.25,"ndi":-0.698},{"avw":510.25,"ndi":-0.771},{"avw":510.75,"ndi":-0.725},{"avw":510.75,"ndi":-0.799},{"avw":511.25,"ndi":-0.671},{"avw":511.25,"ndi":-0.741},{"avw":511.75,"ndi":-0.702},{"avw":511.75,"ndi":-0.778},{"avw":512.25,"ndi":-0.646},{"avw":512.25,"ndi":-0.744},{"avw":512.75,"ndi":-0.713},{"avw":512.75,"ndi":-0.794},{"avw":513.25,"ndi":-0.661},{"avw":513.25,"ndi":-0.747},{"avw":513.75,"ndi":-0.686},{"avw":513.75,"ndi":-0.764},{"avw":514.25,"ndi":-0.627},{"avw":514.25,"ndi":-0.720},{"avw":514.75,"ndi":-0.662},{"avw":514.75,"ndi":-0.742},
  {"avw":515.25,"ndi":-0.642},{"avw":515.25,"ndi":-0.723},{"avw":515.75,"ndi":-0.671},{"avw":515.75,"ndi":-0.753},{"avw":516.25,"ndi":-0.608},{"avw":516.25,"ndi":-0.687},{"avw":516.75,"ndi":-0.642},{"avw":516.75,"ndi":-0.727},{"avw":517.25,"ndi":-0.578},{"avw":517.25,"ndi":-0.687},{"avw":517.75,"ndi":-0.652},{"avw":517.75,"ndi":-0.742},{"avw":518.25,"ndi":-0.592},{"avw":518.25,"ndi":-0.688},{"avw":518.75,"ndi":-0.618},{"avw":518.75,"ndi":-0.706},{"avw":519.25,"ndi":-0.552},{"avw":519.25,"ndi":-0.655},{"avw":519.75,"ndi":-0.589},{"avw":519.75,"ndi":-0.678},
  {"avw":520.25,"ndi":-0.565},{"avw":520.25,"ndi":-0.656},{"avw":520.75,"ndi":-0.596},{"avw":520.75,"ndi":-0.689},{"avw":521.25,"ndi":-0.524},{"avw":521.25,"ndi":-0.613},{"avw":521.75,"ndi":-0.561},{"avw":521.75,"ndi":-0.658},{"avw":522.25,"ndi":-0.486},{"avw":522.25,"ndi":-0.612},{"avw":522.75,"ndi":-0.570},{"avw":522.75,"ndi":-0.675},{"avw":523.25,"ndi":-0.499},{"avw":523.25,"ndi":-0.612},{"avw":523.75,"ndi":-0.529},{"avw":523.75,"ndi":-0.632},{"avw":524.25,"ndi":-0.449},{"avw":524.25,"ndi":-0.572},{"avw":524.75,"ndi":-0.492},{"avw":524.75,"ndi":-0.599},
  {"avw":525.25,"ndi":-0.464},{"avw":525.25,"ndi":-0.573},{"avw":525.75,"ndi":-0.504},{"avw":525.75,"ndi":-0.615},{"avw":526.25,"ndi":-0.420},{"avw":526.25,"ndi":-0.527},{"avw":526.75,"ndi":-0.467},{"avw":526.75,"ndi":-0.582},{"avw":527.25,"ndi":-0.381},{"avw":527.25,"ndi":-0.529},{"avw":527.75,"ndi":-0.482},{"avw":527.75,"ndi":-0.606},{"avw":528.25,"ndi":-0.400},{"avw":528.25,"ndi":-0.533},{"avw":528.75,"ndi":-0.438},{"avw":528.75,"ndi":-0.559},{"avw":529.25,"ndi":-0.347},{"avw":529.25,"ndi":-0.490},{"avw":529.75,"ndi":-0.399},{"avw":529.75,"ndi":-0.524},
  {"avw":530.25,"ndi":-0.368},{"avw":530.25,"ndi":-0.495},{"avw":530.75,"ndi":-0.417},{"avw":530.75,"ndi":-0.545},{"avw":531.25,"ndi":-0.322},{"avw":531.25,"ndi":-0.444},{"avw":531.75,"ndi":-0.379},{"avw":531.75,"ndi":-0.509},{"avw":532.25,"ndi":-0.282},{"avw":532.25,"ndi":-0.451},{"avw":532.75,"ndi":-0.399},{"avw":532.75,"ndi":-0.539},{"avw":533.25,"ndi":-0.308},{"avw":533.25,"ndi":-0.458},{"avw":533.75,"ndi":-0.352},{"avw":533.75,"ndi":-0.488},{"avw":534.25,"ndi":-0.252},{"avw":534.25,"ndi":-0.413},{"avw":534.75,"ndi":-0.312},{"avw":534.75,"ndi":-0.451},
  {"avw":535.25,"ndi":-0.280},{"avw":535.25,"ndi":-0.421},{"avw":535.75,"ndi":-0.334},{"avw":535.75,"ndi":-0.476},{"avw":536.25,"ndi":-0.231},{"avw":536.25,"ndi":-0.366},{"avw":536.75,"ndi":-0.294},{"avw":536.75,"ndi":-0.438},{"avw":537.25,"ndi":-0.188},{"avw":537.25,"ndi":-0.375},{"avw":537.75,"ndi":-0.318},{"avw":537.75,"ndi":-0.473},{"avw":538.25,"ndi":-0.219},{"avw":538.25,"ndi":-0.384},{"avw":538.75,"ndi":-0.269},{"avw":538.75,"ndi":-0.418},{"avw":539.25,"ndi":-0.159},{"avw":539.25,"ndi":-0.336},{"avw":539.75,"ndi":-0.226},{"avw":539.75,"ndi":-0.379},
  {"avw":540.25,"ndi":-0.192},{"avw":540.25,"ndi":-0.345},{"avw":540.75,"ndi":-0.251},{"avw":540.75,"ndi":-0.404},{"avw":541.25,"ndi":-0.141},{"avw":541.25,"ndi":-0.285},{"avw":541.75,"ndi":-0.208},{"avw":541.75,"ndi":-0.361},{"avw":542.25,"ndi":-0.098},{"avw":542.25,"ndi":-0.293},{"avw":542.75,"ndi":-0.233},{"avw":542.75,"ndi":-0.395},{"avw":543.25,"ndi":-0.131},{"avw":543.25,"ndi":-0.301},{"avw":543.75,"ndi":-0.182},{"avw":543.75,"ndi":-0.335},{"avw":544.25,"ndi":-0.071},{"avw":544.25,"ndi":-0.250},{"avw":544.75,"ndi":-0.139},{"avw":544.75,"ndi":-0.292},
  {"avw":545.25,"ndi":-0.105},{"avw":545.25,"ndi":-0.258},{"avw":545.75,"ndi":-0.164},{"avw":545.75,"ndi":-0.317},{"avw":546.25,"ndi":-0.053},{"avw":546.25,"ndi":-0.198},{"avw":546.75,"ndi":-0.121},{"avw":546.75,"ndi":-0.274},{"avw":547.25,"ndi":-0.010},{"avw":547.25,"ndi":-0.206},{"avw":547.75,"ndi":-0.146},{"avw":547.75,"ndi":-0.307},{"avw":548.25,"ndi":-0.044},{"avw":548.25,"ndi":-0.214},{"avw":548.75,"ndi":-0.094},{"avw":548.75,"ndi":-0.247},{"avw":549.25,"ndi":0.016},{"avw":549.25,"ndi":-0.162},{"avw":549.75,"ndi":-0.051},{"avw":549.75,"ndi":-0.204},
  {"avw":550.25,"ndi":-0.017},{"avw":550.25,"ndi":-0.170},{"avw":550.75,"ndi":-0.077},{"avw":550.75,"ndi":-0.229},{"avw":551.25,"ndi":0.032},{"avw":551.25,"ndi":-0.111},{"avw":551.75,"ndi":-0.036},{"avw":551.75,"ndi":-0.187},{"avw":552.25,"ndi":0.073},{"avw":552.25,"ndi":-0.120},{"avw":552.75,"ndi":-0.061},{"avw":552.75,"ndi":-0.220},{"avw":553.25,"ndi":0.039},{"avw":553.25,"ndi":-0.128},{"avw":553.75,"ndi":-0.012},{"avw":553.75,"ndi":-0.161},{"avw":554.25,"ndi":0.096},{"avw":554.25,"ndi":-0.078},{"avw":554.75,"ndi":0.029},{"avw":554.75,"ndi":-0.119},
  {"avw":555.25,"ndi":0.062},{"avw":555.25,"ndi":-0.086},{"avw":555.75,"ndi":0.005},{"avw":555.75,"ndi":-0.143},{"avw":556.25,"ndi":0.111},{"avw":556.25,"ndi":-0.028},{"avw":556.75,"ndi":0.045},{"avw":556.75,"ndi":-0.101},{"avw":557.25,"ndi":0.151},{"avw":557.25,"ndi":-0.036},{"avw":557.75,"ndi":0.021},{"avw":557.75,"ndi":-0.133},{"avw":558.25,"ndi":0.118},{"avw":558.25,"ndi":-0.044},{"avw":558.75,"ndi":0.070},{"avw":558.75,"ndi":-0.075},{"avw":559.25,"ndi":0.174},{"avw":559.25,"ndi":0.005},{"avw":559.75,"ndi":0.110},{"avw":559.75,"ndi":-0.034},
  {"avw":560.25,"ndi":0.142},{"avw":560.25,"ndi":-0.001},{"avw":560.75,"ndi":0.086},{"avw":560.75,"ndi":-0.055},{"avw":561.25,"ndi":0.188},{"avw":561.25,"ndi":0.056},{"avw":561.75,"ndi":0.126},{"avw":561.75,"ndi":-0.012},{"avw":562.25,"ndi":0.224},{"avw":562.25,"ndi":0.051},{"avw":562.75,"ndi":0.104},{"avw":562.75,"ndi":-0.037},{"avw":563.25,"ndi":0.193},{"avw":563.25,"ndi":0.047},{"avw":563.75,"ndi":0.150},{"avw":563.75,"ndi":0.020},{"avw":564.25,"ndi":0.244},{"avw":564.25,"ndi":0.094},{"avw":564.75,"ndi":0.187},{"avw":564.75,"ndi":0.060},
  {"avw":565.25,"ndi":0.216},{"avw":565.25,"ndi":0.091},{"avw":565.75,"ndi":0.168},{"avw":565.75,"ndi":0.045},{"avw":566.25,"ndi":0.258},{"avw":566.25,"ndi":0.143},{"avw":566.75,"ndi":0.205},{"avw":566.75,"ndi":0.085},{"avw":567.25,"ndi":0.291},{"avw":567.25,"ndi":0.141},{"avw":567.75,"ndi":0.188},{"avw":567.75,"ndi":0.066},{"avw":568.25,"ndi":0.266},{"avw":568.25,"ndi":0.140},{"avw":568.75,"ndi":0.230},{"avw":568.75,"ndi":0.118},{"avw":569.25,"ndi":0.312},{"avw":569.25,"ndi":0.183},{"avw":569.75,"ndi":0.264},{"avw":569.75,"ndi":0.155},
  {"avw":570.25,"ndi":0.289},{"avw":570.25,"ndi":0.181},{"avw":570.75,"ndi":0.246},{"avw":570.75,"ndi":0.138},{"avw":571.25,"ndi":0.324},{"avw":571.25,"ndi":0.222},{"avw":571.75,"ndi":0.275},{"avw":571.75,"ndi":0.167},{"avw":572.25,"ndi":0.353},{"avw":572.25,"ndi":0.215},{"avw":572.75,"ndi":0.256},{"avw":572.75,"ndi":0.142},{"avw":573.25,"ndi":0.328},{"avw":573.25,"ndi":0.208},{"avw":573.75,"ndi":0.291},{"avw":573.75,"ndi":0.183},{"avw":574.25,"ndi":0.369},{"avw":574.25,"ndi":0.243},{"avw":574.75,"ndi":0.320},{"avw":574.75,"ndi":0.212}
 ]
},
"layer": [
 {
  "data": {"name": "pts"},
  "mark": {"type": "circle", "size": 36, "color": "#000000", "opacity": 1, "clip": true},
  "encoding": {
   "x": {"field": "avw", "type": "quantitative", "scale": {"domain": [435, 615], "nice": false, "zero": false},
    "axis": {"title": "AVW (nm)", "values": [440, 460, 480, 500, 520, 540, 560, 580, 600], "labelExpr": "'' + datum.value", "labelPadding": 31, "titlePadding": 11, "grid": true}},
   "y": {"field": "ndi", "type": "quantitative", "scale": {"domain": [-1.2, 1], "nice": false, "zero": false},
    "axis": {"title": "NDI(492,665)", "values": [-1, -0.5, 0, 0.5, 1], "labelExpr": "'' + datum.value", "labelPadding": 24, "titlePadding": 9, "grid": true}}
  }
 },
 {
  "data": {"name": "qwip"},
  "mark": {"type": "line", "color": "#ff00ff", "strokeWidth": 4, "interpolate": "monotone", "clip": true, "strokeCap": "butt"},
  "encoding": {
   "x": {"field": "avw", "type": "quantitative", "axis": {"orient": "top", "labels": false, "title": null, "grid": false, "values": [440, 460, 480, 500, 520, 540, 560, 580, 600]}},
   "y": {"field": "qwip", "type": "quantitative", "axis": {"orient": "right", "labels": false, "title": null, "grid": false, "values": [-1, -0.5, 0, 0.5, 1]}},
   "strokeDash": {"datum": "QWIP",
    "scale": {"domain": ["New dataset", "QWIP", "QWIP±0.1", "QWIP±0.2"], "range": [[1, 0], [1, 0], [4, 3], [14, 15]]},
    "legend": {"orient": "none", "legendX": 158, "legendY": 78, "title": null, "padding": 8, "rowPadding": 8.5,
     "labelFont": "Liberation Sans", "labelFontSize": 25.5, "labelColor": "#000000", "labelOffset": 30.5, "labelLimit": 300,
     "symbolSize": 100, "symbolOffset": 23.75, "symbolStrokeWidth": 4, "symbolStrokeColor": "#ff00ff",
     "strokeColor": "#262626", "fillColor": "#ffffff",
     "encode": {"symbols": {"update": {
      "shape": {"signal": "datum.value === 'New dataset' ? 'M0.46,0A0.46,0.46,0,1,1,-0.46,0A0.46,0.46,0,1,1,0.46,0Z' : 'M-7.3,0H7.3'"},
      "fill": {"signal": "datum.value === 'New dataset' ? '#000000' : 'transparent'"},
      "stroke": {"signal": "datum.value === 'New dataset' ? 'transparent' : '#ff00ff'"}
     }}}
    }
   }
  }
 },
 {
  "data": {"name": "qwip"},
  "mark": {"type": "line", "color": "#ff00ff", "strokeWidth": 4, "interpolate": "monotone", "clip": true, "strokeCap": "butt"},
  "encoding": {"x": {"field": "avw", "type": "quantitative", "axis": null}, "y": {"field": "p1", "type": "quantitative", "axis": null}, "strokeDash": {"datum": "QWIP±0.1"}}
 },
 {
  "data": {"name": "qwip"},
  "mark": {"type": "line", "color": "#ff00ff", "strokeWidth": 4, "interpolate": "monotone", "clip": true, "strokeCap": "butt"},
  "encoding": {"x": {"field": "avw", "type": "quantitative", "axis": null}, "y": {"field": "m1", "type": "quantitative", "axis": null}, "strokeDash": {"datum": "QWIP±0.1"}}
 },
 {
  "data": {"name": "qwip"},
  "mark": {"type": "line", "color": "#ff00ff", "strokeWidth": 4, "interpolate": "monotone", "clip": true, "strokeCap": "butt"},
  "encoding": {"x": {"field": "avw", "type": "quantitative", "axis": null}, "y": {"field": "p2", "type": "quantitative", "axis": null}, "strokeDash": {"datum": "QWIP±0.2"}}
 },
 {
  "data": {"name": "qwip"},
  "mark": {"type": "line", "color": "#ff00ff", "strokeWidth": 4, "interpolate": "monotone", "clip": true, "strokeCap": "butt"},
  "encoding": {"x": {"field": "avw", "type": "quantitative", "axis": null}, "y": {"field": "m2", "type": "quantitative", "axis": null}, "strokeDash": {"datum": "QWIP±0.2"}}
 }
]
}
